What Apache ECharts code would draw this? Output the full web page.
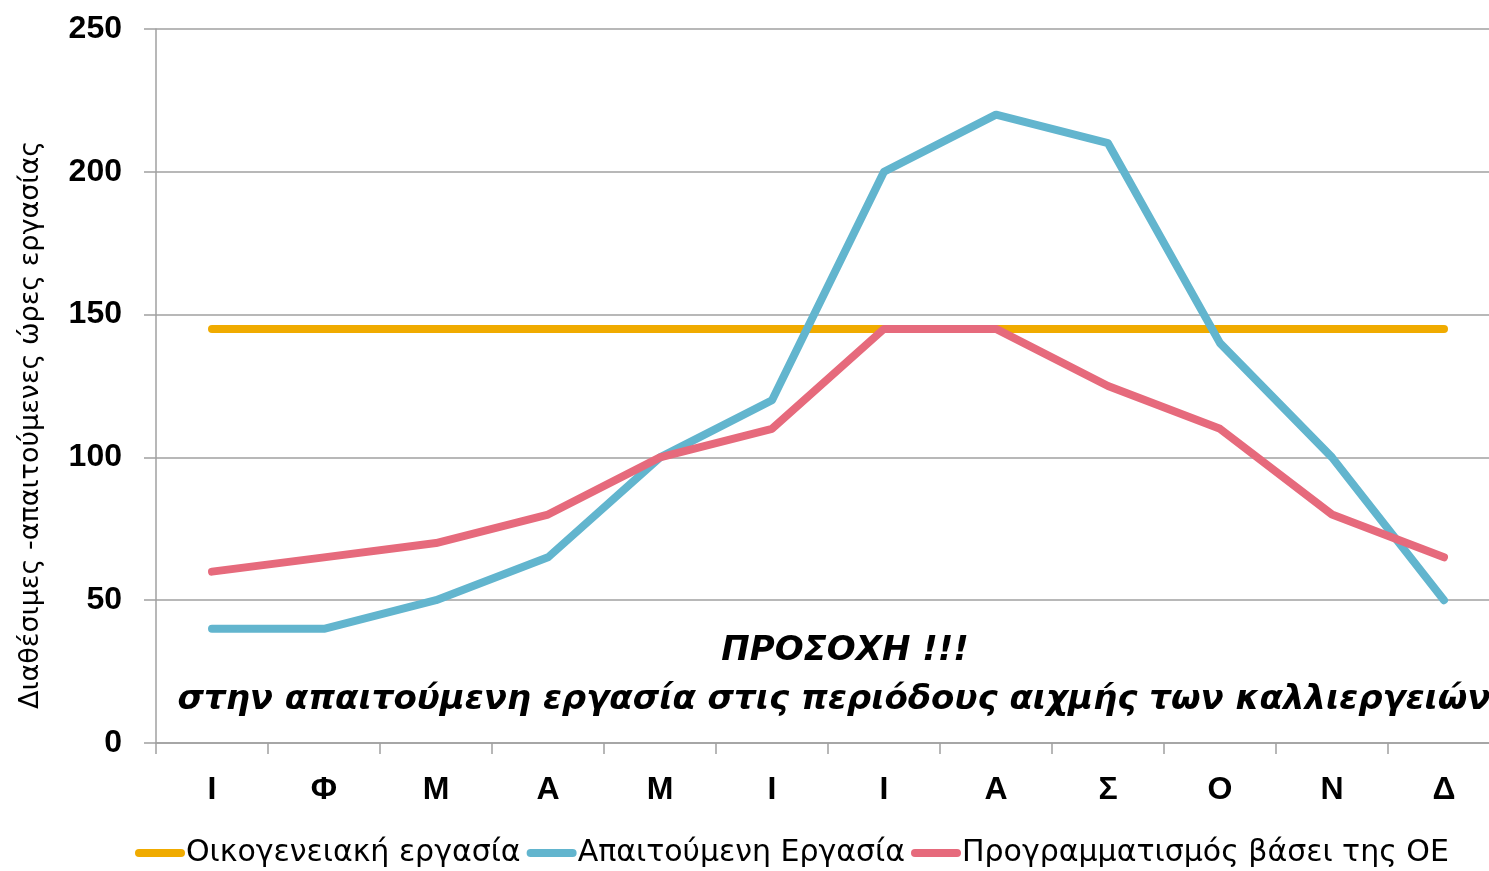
<!DOCTYPE html>
<html>
<head>
<meta charset="utf-8">
<script src="https://cdn.jsdelivr.net/npm/echarts@6/dist/echarts.min.js"></script>
<style>
html,body{margin:0;padding:0;background:#fff;}
#chart{width:1489px;height:871px;}
</style>
</head>
<body>
<div id="chart"></div>
<script>
const months = ['Ι','Φ','Μ','Α','Μ','Ι','Ι','Α','Σ','Ο','Ν','Δ'];
const seriesNames = ['Οικογενειακή εργασία','Απαιτούμενη Εργασία','Προγραμματισμός βάσει της ΟΕ'];
const familyWork = [145,145,145,145,145,145,145,145,145,145,145,145];
const requiredWork = [40,40,50,65,100,120,200,220,210,140,100,50];
const plannedWork = [60,65,70,80,100,110,145,145,125,110,80,65];
const yAxisTitle = 'Διαθέσιμες -απαιτούμενες ώρες εργασίας';
const noteLine1 = 'ΠΡΟΣΟΧΗ !!!';
const noteLine2 = 'στην απαιτούμενη εργασία στις περιόδους αιχμής των καλλιεργειών';
const colors = ['#F0AB00','#62B5CE','#E66A7C'];

const chart = echarts.init(document.getElementById('chart'), null, {renderer:'canvas'});
const pill = 'path://M4,0 H46 A4,4 0 0 1 46,8 H4 A4,4 0 0 1 4,0 Z';
const mk = (name, data, color) => ({
  name, type:'line', data, showSymbol:false, symbol:'none',
  lineStyle:{color, width:8, cap:'round', join:'round'},
  itemStyle:{color}, animation:false
});
chart.setOption({
  animation:false,
  color: colors,
  grid:{left:156, top:29, width:1344, height:714, containLabel:false, outerBoundsMode:'none'},
  xAxis:{
    type:'category', data: months, boundaryGap:true,
    axisLine:{lineStyle:{color:'#A0A0A0', width:1.5}},
    axisTick:{show:true, alignWithLabel:false, length:11, lineStyle:{color:'#A0A0A0', width:1.5}},
    axisLabel:{color:'#000', fontFamily:'Liberation Sans', fontWeight:'bold', fontSize:32, margin:31}
  },
  yAxis:{
    type:'value', min:0, max:250, interval:50,
    name: yAxisTitle, nameLocation:'middle', nameRotate:90, nameGap:112,
    nameTextStyle:{color:'#000', fontFamily:'DejaVu Sans', fontSize:27, padding:[0,78,0,0]},
    axisLine:{show:true, lineStyle:{color:'#A0A0A0', width:1.5}},
    axisTick:{show:true, length:12, lineStyle:{color:'#A0A0A0', width:1.5}},
    splitLine:{show:true, lineStyle:{color:'#A0A0A0', width:1.5}},
    axisLabel:{color:'#000', fontFamily:'Liberation Sans', fontWeight:'bold', fontSize:32, margin:34}
  },
  legend:{
    bottom:-2, left:130, itemWidth:50, itemHeight:8, itemGap:6,
    icon: pill,
    textStyle:{color:'#000', fontFamily:'DejaVu Sans', fontSize:30, padding:[0,0,0,-4]},
    data: seriesNames
  },
  graphic:[
    {type:'text', x:845, y:651, style:{text:noteLine1, fill:'#000', font:'italic bold 34px "DejaVu Sans"', align:'center', verticalAlign:'middle'}},
    {type:'text', x:834, y:700, style:{text:noteLine2, fill:'#000', font:'italic bold 34px "DejaVu Sans"', align:'center', verticalAlign:'middle'}}
  ],
  series:[
    mk(seriesNames[0], familyWork, colors[0]),
    mk(seriesNames[1], requiredWork, colors[1]),
    mk(seriesNames[2], plannedWork, colors[2])
  ]
});
</script>
</body>
</html>
